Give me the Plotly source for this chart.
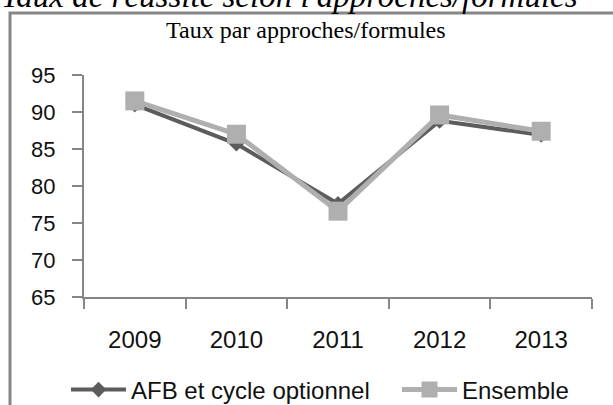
import plotly.graph_objects as go

years = ["2009", "2010", "2011", "2012", "2013"]
afb = [91.0, 85.7, 77.6, 88.8, 86.9]
ensemble = [91.5, 87.0, 76.6, 89.6, 87.4]

W, H = 613, 405
L, R, T, B = 84, 592, 75, 297

def px(x):
    return (x - L) / (R - L)

def py(y):
    return (B - y) / (B - T)

fig = go.Figure()
fig.add_trace(go.Scatter(
    x=years, y=afb, name="AFB et cycle optionnel", mode="lines+markers",
    line=dict(color="#5c5c5c", width=4),
    marker=dict(symbol="diamond", size=12, color="#5c5c5c"),
    legend="legend",
))
fig.add_trace(go.Scatter(
    x=years, y=ensemble, name="Ensemble", mode="lines+markers",
    line=dict(color="#afafaf", width=5),
    marker=dict(symbol="square", size=19, color="#afafaf"),
    legend="legend2",
))

sans = "Liberation Sans, Arial, sans-serif"
serif = "Liberation Serif, Times New Roman, serif"
leg_font = dict(family=sans, size=24, color="#111")

fig.update_layout(
    width=W, height=H,
    margin=dict(l=L, r=W - R, t=T, b=H - B, autoexpand=False),
    paper_bgcolor="white", plot_bgcolor="white",
    showlegend=True,
    legend=dict(
        orientation="h", x=px(66), xanchor="left", y=py(390), yanchor="middle",
        font=leg_font, itemwidth=55, bgcolor="rgba(0,0,0,0)",
    ),
    legend2=dict(
        orientation="h", x=px(397), xanchor="left", y=py(390), yanchor="middle",
        font=leg_font, itemwidth=55, bgcolor="rgba(0,0,0,0)",
    ),
    xaxis=dict(
        type="category", tickson="boundaries", ticks="outside", ticklen=10,
        tickcolor="#868686", tickwidth=2, showline=True, linecolor="#868686",
        linewidth=2, showgrid=False, tickfont=dict(family=sans, size=24, color="#111"),
        ticklabelstandoff=20, range=[-0.5, 4.5],
    ),
    yaxis=dict(
        range=[65, 95], dtick=5, ticks="outside", ticklen=10,
        tickcolor="#868686", tickwidth=2, showline=True, linecolor="#868686",
        linewidth=2, showgrid=False, zeroline=False,
        tickfont=dict(family=sans, size=22, color="#111"),
        ticklabelstandoff=12,
    ),
    shapes=[dict(
        type="rect", xref="paper", yref="paper",
        x0=px(10), x1=px(625), y0=py(420), y1=py(13),
        line=dict(color="#868686", width=3), fillcolor="rgba(0,0,0,0)", layer="below",
    )],
    annotations=[
        dict(text="Taux par approches/formules", xref="paper", yref="paper",
             x=px(306), y=py(30), xanchor="center", yanchor="middle", showarrow=False,
             font=dict(family=serif, size=24, color="#000")),
        dict(text="<i>Taux de réussite selon l'approches/formules</i>", xref="paper", yref="paper",
             x=px(580), y=py(-4), xanchor="right", yanchor="middle", showarrow=False,
             font=dict(family=serif, size=33, color="#000")),
    ],
)

fig.write_html("out.html", post_script="document.body.style.margin='0';",
               config={"displayModeBar": False})
